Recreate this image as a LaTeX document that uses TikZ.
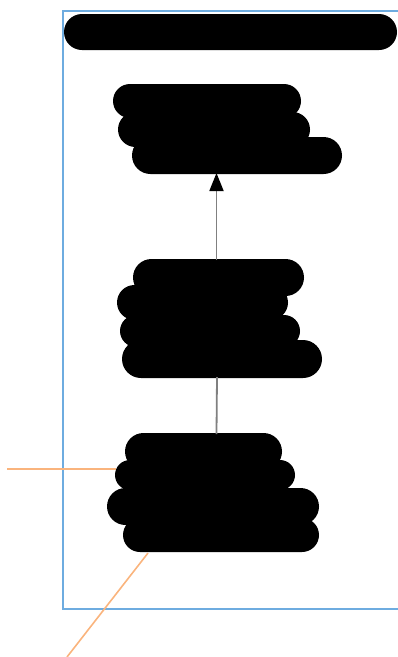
\documentclass[tikz,border=0pt]{standalone}
\usetikzlibrary{shapes.misc,arrows.meta}
\definecolor{framblue}{RGB}{110,172,224}
\definecolor{linkorange}{RGB}{250,180,125}
\definecolor{conngray}{RGB}{128,128,128}
\tikzset{
  blob/.style={rounded rectangle, fill=black, draw=none, inner sep=0pt},
  frameline/.style={draw=framblue, line width=2pt},
  leader/.style={draw=linkorange, line width=1.6pt},
  conn/.style={draw=conngray, line width=1.8pt},
}
\begin{document}
\begin{tikzpicture}[x=1pt,y=-1pt]
\useasboundingbox (0,0) rectangle (397,657);
% frame
\draw[frameline] (398,11) -- (63,11) -- (63,609) -- (398,609);
% title blob
\node[blob, minimum width=333pt, minimum height=36pt] (title) at (230.5,32) {};
% node 1
\node[blob, minimum width=188pt, minimum height=34pt] (n1a) at (207,101) {};
\node[blob, minimum width=192pt, minimum height=35pt] (n1b) at (214,129.5) {};
\node[blob, minimum width=210pt, minimum height=37pt] (n1c) at (237,155.5) {};
% node 2
\node[blob, minimum width=171pt, minimum height=37pt] (n2a) at (218.5,277.5) {};
\node[blob, minimum width=171pt, minimum height=35pt] (n2b) at (202.5,302.5) {};
\node[blob, minimum width=180pt, minimum height=32pt] (n2c) at (210,331) {};
\node[blob, minimum width=200pt, minimum height=38pt] (n2d) at (222,359) {};
% node 3
\node[blob, minimum width=157pt, minimum height=37pt] (n3a) at (203.5,451.5) {};
\node[blob, minimum width=180pt, minimum height=30pt] (n3b) at (205,475) {};
\node[blob, minimum width=212pt, minimum height=37pt] (n3c) at (213,506.5) {};
\node[blob, minimum width=196pt, minimum height=34pt] (n3d) at (221,535) {};
% connector anchors
\coordinate (p1top) at (216.5,173);
\coordinate (p2bot) at (216.5,260);
\coordinate (p2low) at (217,377);
\coordinate (p3top) at (216.5,434);
\coordinate (o1) at (7,469);
\coordinate (o2) at (116,469);
\coordinate (o3) at (148,553);
\coordinate (o4) at (67,657);
\draw[conn, -{Triangle[black,length=18pt,width=14pt]}] (p2bot) -- (p1top);
\draw[conn] (p2low) -- (p3top);
\draw[leader] (o1) -- (o2);
\draw[leader] (o3) -- (o4);
\end{tikzpicture}
\end{document}
